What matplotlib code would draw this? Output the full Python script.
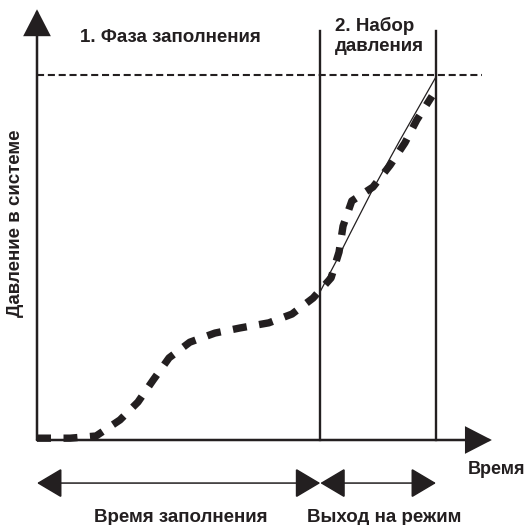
import matplotlib.pyplot as plt
from matplotlib.patches import FancyArrowPatch

plt.rcParams['font.family'] = ['Liberation Sans', 'DejaVu Sans']

# pressure curve during filling and pressurisation (time, pressure)
curve_t = [0.0, 0.83, 1.48, 2.08, 2.53, 2.91, 3.31, 3.83, 4.46, 5.09, 5.81,
           6.39, 6.92, 7.37, 7.57, 7.67, 7.89, 8.42, 8.85, 9.22, 9.52, 9.90]
curve_p = [0.05, 0.05, 0.11, 0.55, 1.04, 1.64, 2.25, 2.68, 2.93, 3.07, 3.21,
           3.45, 3.89, 4.44, 5.15, 5.86, 6.55, 6.93, 7.53, 8.14, 8.77, 9.42]

# ideal pressure ramp in phase 2
ramp_t = [7.09, 7.49, 7.84, 8.37, 9.10, 10.0]
ramp_p = [4.05, 4.88, 5.64, 6.77, 8.22, 9.95]

t_fill = 7.1       # end of filling phase
t_end = 10.0       # end of pressurisation
p_target = 10.0    # target pressure
t_axis_max = 11.4
p_axis_max = 11.8

phase_labels = ['1. Фаза заполнения', '2. Набор\nдавления']
span_labels = ['Время заполнения', 'Выход на режим']
x_label = 'Время'
y_label = 'Давление в системе'

fig = plt.figure(figsize=(5.28, 5.25), dpi=100)
ax = fig.add_axes([0, 0, 1, 1])
ax.set_xlim(-37 / 39.9, 491 / 39.9)
ax.set_ylim(-85 / 36.5, 440 / 36.5)
ax.axis('off')

ink = '#231f20'


def arrow(p0, p1, style, lw, hl, hw):
    a = FancyArrowPatch(p0, p1, arrowstyle=f'{style},head_length={hl},head_width={hw}',
                        mutation_scale=1, lw=lw, color=ink,
                        shrinkA=0, shrinkB=0, joinstyle='miter')
    ax.add_patch(a)


# axes with arrowheads
arrow((0, 0), (t_axis_max, 0), '-|>', 1.8, 16.5, 8.5)
arrow((0, 0), (0, p_axis_max), '-|>', 1.8, 16.5, 8.5)

# phase boundaries and target pressure
ax.plot([t_fill, t_fill], [0, 11.2], color=ink, lw=1.7)
ax.plot([t_end, t_end], [0, 11.2], color=ink, lw=1.7)
ax.plot([0, 11.15], [p_target, p_target], color=ink, lw=1.5,
        ls=(0, (3.4, 1.8)))

# curves
ax.plot(ramp_t, ramp_p, color=ink, lw=0.9)
ax.plot(curve_t, curve_p, color=ink, lw=5.3, ls=(0, (1.9, 1.7)),
        dash_capstyle='butt', solid_joinstyle='round')

# duration arrows below the axis
arrow((0, -1.18), (t_fill, -1.18), '<|-|>', 1.1, 16, 9.5)
arrow((t_fill, -1.18), (t_end, -1.18), '<|-|>', 1.1, 16, 9.5)

fs = 13.5
ax.text(1.08, 11.04, phase_labels[0], fontsize=fs, fontweight='bold',
        ha='left', va='center', color=ink)
ax.text(7.47, 11.07, phase_labels[1], fontsize=fs, fontweight='bold',
        ha='left', va='center', color=ink, linespacing=1.2)
ax.text(10.8, -0.82, x_label, fontsize=13, fontweight='bold',
        ha='left', va='center', color=ink)
ax.text(3.61, -2.12, span_labels[0], fontsize=fs, fontweight='bold',
        ha='center', va='center', color=ink)
ax.text(8.7, -2.12, span_labels[1], fontsize=fs, fontweight='bold',
        ha='center', va='center', color=ink)
ax.text(-0.55, 5.95, y_label, fontsize=fs, fontweight='bold', rotation=90,
        ha='center', va='center', color=ink)

fig.savefig('out.png', dpi=100)
